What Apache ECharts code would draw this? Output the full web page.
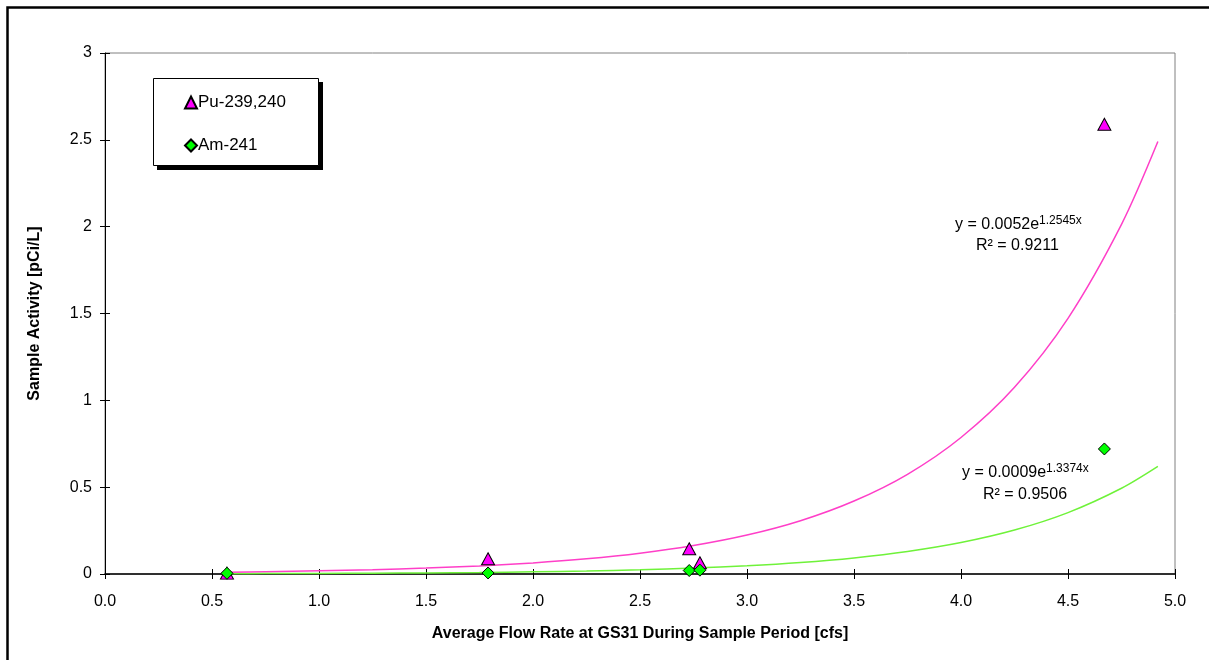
<!DOCTYPE html>
<html>
<head>
<meta charset="utf-8">
<script src="https://cdn.jsdelivr.net/npm/echarts@6/dist/echarts.min.js"></script>
<style>
html,body{margin:0;padding:0;background:#fff;}
#chart{width:1209px;height:660px;}
</style>
</head>
<body>
<div id="chart"></div>
<script>
// ---- data ----
const seriesNames = ['Pu-239,240', 'Am-241'];
const puX = [0.57, 1.79, 2.73, 2.78, 4.67];
const puY = [0.005, 0.088, 0.145, 0.065, 2.59];
const amX = [0.57, 1.79, 2.73, 2.78, 4.67];
const amY = [0.004, 0.006, 0.020, 0.022, 0.72];
// trend curves read along their drawn path
const trendX  = [0.57, 0.75, 1.0, 1.25, 1.5, 1.75, 2.0, 2.25, 2.5, 2.75, 3.0, 3.25, 3.5, 3.75, 4.0, 4.25, 4.5, 4.75, 4.92];
const puTrend = [0.0106, 0.0133, 0.0182, 0.0249, 0.0341, 0.0467, 0.0639, 0.0875, 0.1197, 0.1637, 0.224, 0.3066, 0.420, 0.574, 0.786, 1.075, 1.472, 2.013, 2.49];
const amTrend = [0.0018, 0.0024, 0.0033, 0.0046, 0.0064, 0.0089, 0.0125, 0.0174, 0.0244, 0.0340, 0.0475, 0.0664, 0.0928, 0.1296, 0.181, 0.2529, 0.3534, 0.4936, 0.6196];
const xTicks = { min: 0, max: 5, interval: 0.5 };
const yTicks = { min: 0, max: 3, interval: 0.5 };
const puEq = { base: 'y = 0.0052e', exp: '1.2545x', r2: 'R² = 0.9211' };
const amEq = { base: 'y = 0.0009e', exp: '1.3374x', r2: 'R² = 0.9506' };

const pairs = (xs, ys) => xs.map((x, i) => [x, ys[i]]);
const FONT = 'Liberation Sans, Arial, sans-serif';

const chart = echarts.init(document.getElementById('chart'));
const baseX = {
  type: 'value', min: xTicks.min, max: xTicks.max, interval: xTicks.interval,
  position: 'bottom'
};
const baseY = {
  type: 'value', min: yTicks.min, max: yTicks.max, interval: yTicks.interval,
  position: 'left'
};
const eqRich = {
  b: { fontSize: 16, fontFamily: FONT, fill: '#000', color: '#000' },
  s: { fontSize: 12, fontFamily: FONT, fill: '#000', color: '#000', verticalAlign: 'top', padding: [0, 0, 8, 0] }
};
chart.setOption({
  animation: false,
  backgroundColor: '#ffffff',
  textStyle: { fontFamily: FONT },
  grid: {
    left: 105, top: 53, width: 1070, height: 521,
    show: true, borderColor: '#808080', borderWidth: 1,
    containLabel: false, outerBoundsMode: 'none'
  },
  xAxis: [
    Object.assign({}, baseX, {
      name: 'Average Flow Rate at GS31 During Sample Period [cfs]',
      nameLocation: 'middle', nameGap: 52,
      nameTextStyle: { fontSize: 16, fontWeight: 'bold', color: '#000', fontFamily: FONT },
      axisLine: { show: true, lineStyle: { color: '#000', width: 1.5 } },
      axisTick: { show: true, inside: false, length: 5, lineStyle: { color: '#000' } },
      axisLabel: { formatter: v => v.toFixed(1), fontSize: 16, color: '#000', margin: 20, fontFamily: FONT },
      splitLine: { show: false }
    }),
    Object.assign({}, baseX, {
      axisLine: { show: false },
      axisTick: { show: true, inside: true, length: 5, lineStyle: { color: '#000' } },
      axisLabel: { show: false }, splitLine: { show: false }
    })
  ],
  yAxis: [
    Object.assign({}, baseY, {
      name: 'Sample Activity [pCi/L]',
      nameLocation: 'middle', nameGap: 62, nameRotate: 90,
      nameTextStyle: { fontSize: 16, fontWeight: 'bold', color: '#000', fontFamily: FONT },
      axisLine: { show: true, lineStyle: { color: '#000', width: 1 } },
      axisTick: { show: true, inside: false, length: 5, lineStyle: { color: '#000' } },
      axisLabel: { fontSize: 16, color: '#000', margin: 13, fontFamily: FONT },
      splitLine: { show: false }
    }),
    Object.assign({}, baseY, {
      axisLine: { show: false },
      axisTick: { show: true, inside: true, length: 5, lineStyle: { color: '#000' } },
      axisLabel: { show: false }, splitLine: { show: false }
    })
  ],
  legend: {
    orient: 'vertical', left: 184, top: 94,
    padding: 0, itemGap: 26,
    itemWidth: 12, itemHeight: 12, z: 20,
    textStyle: { fontSize: 17, color: '#000', fontFamily: FONT, padding: [0, 0, 0, -4] },
    data: [
      { name: seriesNames[0], icon: 'triangle' },
      { name: seriesNames[1], icon: 'diamond' }
    ]
  },
  series: [
    {
      name: 'Pu trend', type: 'line', data: pairs(trendX, puTrend),
      smooth: 0.3, symbol: 'none', z: 1,
      lineStyle: { color: '#ff3fc8', width: 1.5 }, itemStyle: { color: '#ff3fc8' }
    },
    {
      name: 'Am trend', type: 'line', data: pairs(trendX, amTrend),
      smooth: 0.3, symbol: 'none', z: 1,
      lineStyle: { color: '#6ff23a', width: 1.5 }, itemStyle: { color: '#6ff23a' }
    },
    {
      name: seriesNames[0], type: 'scatter', data: pairs(puX, puY),
      symbol: 'triangle', symbolSize: [13, 12], z: 3,
      itemStyle: { color: '#ff00ff', borderColor: '#000', borderWidth: 1, opacity: 1 }
    },
    {
      name: seriesNames[1], type: 'scatter', data: pairs(amX, amY),
      symbol: 'diamond', symbolSize: [12, 12], z: 4,
      itemStyle: { color: '#00ff00', borderColor: '#000', borderWidth: 1, opacity: 1 }
    }
  ],
  graphic: [
    {
      type: 'rect', left: 5, top: 5, silent: true, z: 100,
      shape: { width: 1300, height: 800 },
      style: { fill: 'none', stroke: '#000', lineWidth: 2.5 }
    },
    {
      type: 'rect', left: 157, top: 82, silent: true, z: 5,
      shape: { width: 166, height: 88 },
      style: { fill: '#000' }
    },
    {
      type: 'rect', left: 153, top: 78, silent: true, z: 6,
      shape: { width: 165, height: 87 },
      style: { fill: '#fff', stroke: '#000', lineWidth: 1 }
    },
    {
      type: 'text', left: 955, top: 215, z: 50,
      style: { text: '{b|' + puEq.base + '}{s|' + puEq.exp + '}', rich: eqRich }
    },
    {
      type: 'text', left: 976, top: 238, z: 50,
      style: { text: puEq.r2, fontSize: 16, fontFamily: FONT, fill: '#000' }
    },
    {
      type: 'text', left: 962, top: 463, z: 50,
      style: { text: '{b|' + amEq.base + '}{s|' + amEq.exp + '}', rich: eqRich }
    },
    {
      type: 'text', left: 983, top: 487, z: 50,
      style: { text: amEq.r2, fontSize: 16, fontFamily: FONT, fill: '#000' }
    }
  ]
});
</script>
</body>
</html>
